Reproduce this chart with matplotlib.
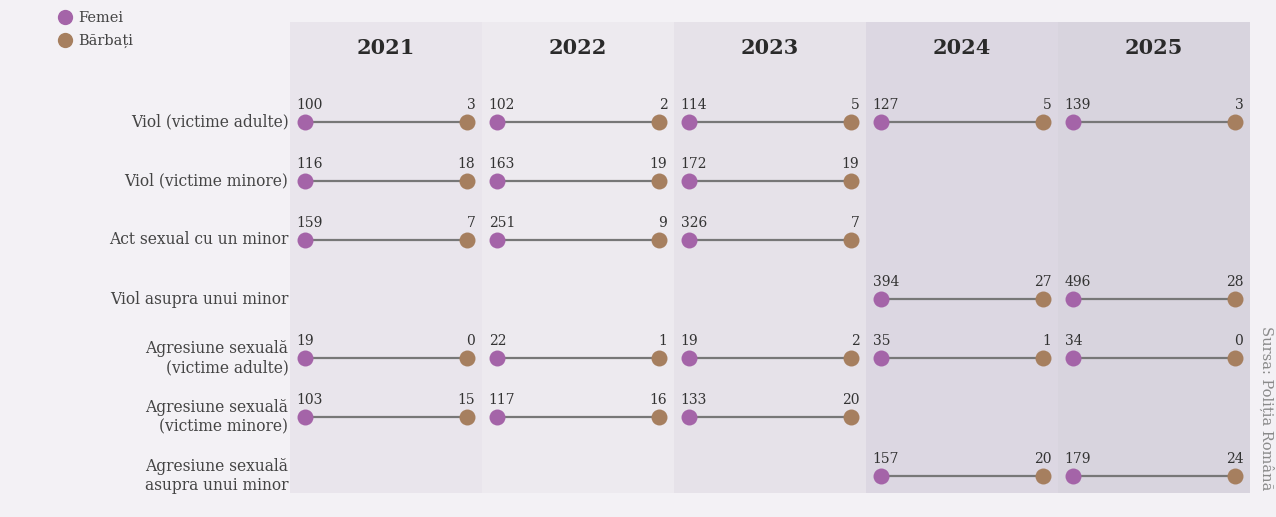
import numpy as np
import matplotlib.pyplot as plt
from matplotlib.lines import Line2D

# data
years = ["2021", "2022", "2023", "2024", "2025"]
categories = [
    "Viol (victime adulte)",
    "Viol (victime minore)",
    "Act sexual cu un minor",
    "Viol asupra unui minor",
    "Agresiune sexuală\n(victime adulte)",
    "Agresiune sexuală\n(victime minore)",
    "Agresiune sexuală\nasupra unui minor",
]
# rows = categories, columns = years (None = no data)
femei = [
    [100, 102, 114, 127, 139],
    [116, 163, 172, None, None],
    [159, 251, 326, None, None],
    [None, None, None, 394, 496],
    [19, 22, 19, 35, 34],
    [103, 117, 133, None, None],
    [None, None, None, 157, 179],
]
barbati = [
    [3, 2, 5, 5, 3],
    [18, 19, 19, None, None],
    [7, 9, 7, None, None],
    [None, None, None, 27, 28],
    [0, 1, 2, 1, 0],
    [15, 16, 20, None, None],
    [None, None, None, 20, 24],
]

c_f = "#a464a8"
c_m = "#a67f5f"
panel_colors = ["#e9e5ec", "#edeaef", "#e6e2e9", "#dcd7e2", "#d8d4de"]
bg = "#f3f1f5"
serif = "DejaVu Serif"

W, H = 1276, 517
fig = plt.figure(figsize=(W / 100, H / 100), dpi=100, facecolor=bg)
ax = fig.add_axes([290 / W, 1 - 493 / H, 960 / W, 471 / H])
ax.set_facecolor(bg)

row_gap = 59
ax.set_xlim(0, len(years))
ax.set_ylim((493 - 122) / row_gap, (22 - 122) / row_gap)
ax.axis("off")

pad = 15 / 192
for j, yr in enumerate(years):
    ax.axvspan(j, j + 1, color=panel_colors[j], zorder=0, lw=0)
    ax.text(j + 0.5, (48 - 122) / row_gap, yr, ha="center", va="center",
            fontsize=15, fontweight="bold", family=serif, color="#2a2a2a")

for i, cat in enumerate(categories):
    ax.text(-0.008, i, cat, ha="right", va="center", fontsize=11.2,
            family=serif, color="#444444", linespacing=1.2)
    for j in range(len(years)):
        f = femei[i][j]
        m = barbati[i][j]
        if f is None:
            continue
        x0, x1 = j + pad, j + 1 - pad
        ax.plot([x0, x1], [i, i], color="#777777", lw=1.6, zorder=2)
        ax.plot(x0, i, "o", ms=11.5, color=c_f, mec="none", zorder=3)
        ax.plot(x1, i, "o", ms=11.5, color=c_m, mec="none", zorder=3)
        ax.annotate(str(f), (x0, i), xytext=(-6, 7), textcoords="offset points",
                    ha="left", va="bottom", fontsize=10, family=serif, color="#333333")
        ax.annotate(str(m), (x1, i), xytext=(6, 7), textcoords="offset points",
                    ha="right", va="bottom", fontsize=10, family=serif, color="#333333")

handles = [
    Line2D([], [], ls="none", marker="o", ms=11, color=c_f, mec="none", label="Femei"),
    Line2D([], [], ls="none", marker="o", ms=11, color=c_m, mec="none", label="Bărbați"),
]
leg = fig.legend(handles=handles, loc="upper left", bbox_to_anchor=(42 / W, 1 + 2 / H),
                 frameon=False, handletextpad=0.2, labelspacing=0.6,
                 prop={"family": serif, "size": 10.5}, handlelength=1.4)
for t in leg.get_texts():
    t.set_color("#444444")

fig.text(1267 / W, 1 - 408 / H, "Sursa: Poliția Română", rotation=-90,
         ha="center", va="center", fontsize=10.5, family=serif, color="#8a8a8a")

fig.savefig("out.png", dpi=100, facecolor=bg)
